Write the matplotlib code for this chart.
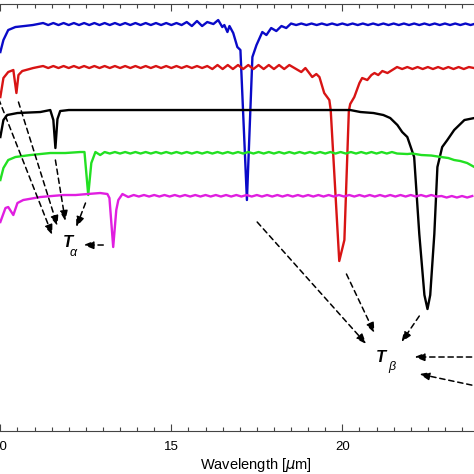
import matplotlib
matplotlib.use("Agg")
import matplotlib.pyplot as plt

# Transmission spectra (offset)
wl_blue = [10.00, 10.09, 10.23, 10.44, 10.70, 10.95, 11.10,
           11.25, 11.40, 11.55, 11.70, 11.85, 12.00, 12.15, 12.30, 12.45, 12.60,
           12.75, 12.90, 13.05, 13.20, 13.35, 13.50, 13.65, 13.80, 13.95, 14.10,
           14.25, 14.40, 14.55, 14.70, 14.85, 15.00, 15.15, 15.30, 15.45, 15.60,
           15.75, 15.90, 16.05,
           16.23, 16.37, 16.49, 16.55, 16.64, 16.70, 16.81, 16.93, 17.02, 17.21,
           17.37, 17.49, 17.66, 17.78, 17.92, 18.07, 18.22, 18.36,
           18.50, 18.65, 18.80, 18.95, 19.10, 19.25, 19.40, 19.55, 19.70, 19.85,
           20.00, 20.15, 20.30, 20.45, 20.60, 20.75, 20.90, 21.05, 21.20, 21.35,
           21.50, 21.65, 21.80, 21.95, 22.10, 22.25, 22.40, 22.55, 22.70, 22.85,
           23.00, 23.15, 23.30, 23.45, 23.60, 23.75, 23.90]
T_blue = [3.79, 3.91, 4.01, 4.04, 4.05, 4.06, 4.07,
          4.08, 4.06, 4.08, 4.06, 4.08, 4.06, 4.08, 4.06, 4.08, 4.06,
          4.08, 4.06, 4.08, 4.06, 4.08, 4.06, 4.08, 4.06, 4.08, 4.06,
          4.08, 4.06, 4.08, 4.06, 4.08, 4.06, 4.08, 4.06, 4.09, 4.05,
          4.10, 4.05, 4.09,
          4.07, 4.11, 4.04, 4.06, 3.99, 4.05, 3.98, 3.84, 3.81, 2.31,
          3.74, 3.86, 3.99, 3.96, 4.03, 4.00, 4.05, 4.03,
          4.075, 4.06, 4.075, 4.06, 4.075, 4.06, 4.075, 4.06, 4.075, 4.06,
          4.075, 4.06, 4.075, 4.06, 4.075, 4.06, 4.075, 4.06, 4.075, 4.06,
          4.075, 4.06, 4.075, 4.06, 4.075, 4.06, 4.075, 4.06, 4.075, 4.06,
          4.075, 4.06, 4.075, 4.06, 4.075, 4.06, 4.075]

wl_red = [10.00, 10.09, 10.23, 10.38, 10.47, 10.53, 10.64, 10.96, 11.10,
          11.25, 11.40, 11.55, 11.70, 11.85, 12.00, 12.15, 12.30, 12.45, 12.60,
          12.75, 12.90, 13.05, 13.20, 13.35, 13.50, 13.65, 13.80, 13.95, 14.10,
          14.25, 14.40, 14.55, 14.70, 14.85, 15.00, 15.15, 15.30, 15.45, 15.60,
          15.75, 15.90, 16.05, 16.20, 16.35, 16.50, 16.65, 16.80, 16.95, 17.10,
          17.25, 17.40, 17.55, 17.70, 17.85, 18.00, 18.15, 18.30, 18.45,
          18.60, 18.80, 18.92, 19.01, 19.12, 19.24, 19.33, 19.47, 19.62, 19.66,
          19.91, 20.06, 20.19, 20.23, 20.35, 20.50, 20.58, 20.73, 20.85, 20.94,
          21.05, 21.17, 21.32, 21.46,
          21.60, 21.75, 21.90, 22.05, 22.20, 22.35, 22.50, 22.65, 22.80, 22.95,
          23.10, 23.25, 23.40, 23.55, 23.70, 23.85]
T_red = [3.34, 3.53, 3.59, 3.61, 3.38, 3.56, 3.60, 3.63, 3.64,
         3.65, 3.63, 3.65, 3.63, 3.65, 3.63, 3.65, 3.63, 3.65, 3.63,
         3.65, 3.63, 3.65, 3.63, 3.65, 3.63, 3.65, 3.63, 3.65, 3.63,
         3.65, 3.63, 3.65, 3.63, 3.65, 3.63, 3.65, 3.63, 3.65, 3.63,
         3.65, 3.63, 3.65, 3.62, 3.66, 3.62, 3.66, 3.62, 3.66, 3.62,
         3.66, 3.62, 3.66, 3.62, 3.66, 3.62, 3.66, 3.62, 3.66,
         3.63, 3.59, 3.63, 3.59, 3.54, 3.57, 3.54, 3.38, 3.31, 3.21,
         1.70, 1.91, 3.20, 3.27, 3.34, 3.48, 3.53, 3.51, 3.56, 3.58,
         3.56, 3.60, 3.58, 3.61,
         3.64, 3.62, 3.64, 3.62, 3.64, 3.62, 3.64, 3.62, 3.64, 3.62,
         3.64, 3.62, 3.64, 3.62, 3.64, 3.63]

wl_black = [10.00, 10.09, 10.20, 10.50, 11.17, 11.46, 11.55, 11.61, 11.67,
            11.75, 12.00, 14.00, 16.00, 18.00, 20.23, 20.53, 20.91, 21.20,
            21.40, 21.61, 21.75, 21.90, 22.10, 22.25, 22.40, 22.49, 22.57,
            22.69, 22.78, 22.92, 23.07, 23.27, 23.57, 23.86]
T_black = [2.94, 3.11, 3.16, 3.18, 3.19, 3.21, 3.11, 2.83, 3.12,
           3.20, 3.21, 3.21, 3.21, 3.21, 3.21, 3.19, 3.18, 3.16,
           3.13, 3.06, 2.99, 2.94, 2.74, 1.97, 1.36, 1.22, 1.36,
           1.97, 2.64, 2.84, 2.91, 3.01, 3.11, 3.13]

wl_green = [10.00, 10.09, 10.23, 10.44, 10.88, 11.46, 11.90, 12.34, 12.46,
            12.57, 12.66, 12.78, 12.92,
            13.05, 13.20, 13.35, 13.50, 13.65, 13.80, 13.95, 14.10, 14.25,
            14.40, 14.55, 14.70, 14.85, 15.00, 15.15, 15.30, 15.45, 15.60,
            15.75, 15.90, 16.05, 16.20, 16.35, 16.50, 16.65, 16.80, 16.95,
            17.10, 17.25, 17.40, 17.55, 17.70, 17.85, 18.00, 18.15, 18.30,
            18.45, 18.60, 18.75, 18.90, 19.05, 19.20, 19.35, 19.50, 19.65,
            19.80, 19.95, 20.10, 20.25, 20.40, 20.55, 20.70, 20.85, 21.00,
            21.15, 21.30, 21.45, 21.60,
            21.90, 22.05, 22.31, 22.60, 22.89, 23.10, 23.27, 23.45, 23.65, 23.86]
T_green = [2.51, 2.63, 2.71, 2.74, 2.76, 2.78, 2.78, 2.79, 2.79,
           2.36, 2.68, 2.79, 2.76,
           2.79, 2.775, 2.79, 2.775, 2.79, 2.775, 2.79, 2.775, 2.79,
           2.775, 2.79, 2.775, 2.79, 2.775, 2.79, 2.775, 2.79, 2.775,
           2.79, 2.775, 2.79, 2.775, 2.79, 2.775, 2.79, 2.775, 2.79,
           2.775, 2.79, 2.775, 2.79, 2.775, 2.79, 2.775, 2.79, 2.775,
           2.79, 2.775, 2.79, 2.775, 2.79, 2.775, 2.79, 2.775, 2.79,
           2.775, 2.79, 2.775, 2.79, 2.775, 2.79, 2.775, 2.79, 2.775,
           2.79, 2.775, 2.79, 2.775,
           2.77, 2.775, 2.76, 2.755, 2.74, 2.73, 2.71, 2.70, 2.68, 2.64]

wl_mag = [10.00, 10.15, 10.23, 10.38, 10.50, 10.67, 11.17, 11.50, 11.85,
          12.20, 12.55, 12.92, 13.13, 13.19, 13.30, 13.39, 13.45, 13.57, 13.74,
          13.90, 14.05, 14.20, 14.35, 14.50, 14.65, 14.80, 14.95, 15.10, 15.25,
          15.40, 15.55, 15.70, 15.85, 16.00, 16.15, 16.30, 16.45, 16.60, 16.75,
          16.90, 17.05, 17.20, 17.35, 17.50, 17.65, 17.80, 17.95, 18.10, 18.25,
          18.40, 18.55, 18.70, 18.85, 19.00, 19.15, 19.30, 19.45, 19.60, 19.75,
          19.90, 20.05, 20.20, 20.35, 20.50, 20.65, 20.80, 20.95, 21.10, 21.25,
          21.40, 21.55, 21.70, 21.85, 22.00, 22.15, 22.30, 22.45, 22.60, 22.75,
          22.90, 23.05, 23.20, 23.35, 23.50, 23.65, 23.80]
T_mag = [2.09, 2.23, 2.24, 2.16, 2.28, 2.31, 2.34, 2.35, 2.36,
         2.36, 2.37, 2.38, 2.37, 2.33, 1.84, 2.21, 2.31, 2.37, 2.34,
         2.36, 2.345, 2.36, 2.345, 2.36, 2.345, 2.36, 2.345, 2.36, 2.345,
         2.36, 2.345, 2.36, 2.345, 2.36, 2.345, 2.36, 2.345, 2.36, 2.345,
         2.36, 2.345, 2.36, 2.345, 2.36, 2.345, 2.36, 2.345, 2.36, 2.345,
         2.36, 2.345, 2.36, 2.345, 2.36, 2.345, 2.36, 2.345, 2.36, 2.345,
         2.36, 2.345, 2.36, 2.345, 2.36, 2.345, 2.36, 2.345, 2.36, 2.345,
         2.36, 2.345, 2.36, 2.345, 2.36, 2.345, 2.36, 2.345, 2.36, 2.345,
         2.35, 2.335, 2.35, 2.335, 2.35, 2.335, 2.35]

# dashed arrows pointing at the two absorption bands
alpha_from = [(9.56, 3.66), (10.53, 3.29), (11.61, 2.71), (12.49, 2.28), (13.01, 1.86)]
alpha_to = [(11.52, 1.96), (11.67, 2.05), (11.90, 2.10), (12.22, 2.04), (12.43, 1.86)]
beta_from = [(17.51, 2.09), (20.12, 1.57), (22.25, 1.15), (24.05, 0.74), (24.05, 0.44)]
beta_to = [(20.70, 0.87), (20.94, 0.98), (21.73, 0.89), (22.11, 0.74), (22.25, 0.57)]

plt.rcParams['font.family'] = ['Liberation Sans', 'DejaVu Sans']

fig = plt.figure(figsize=(4.74, 4.74), dpi=100)
ax = fig.add_axes([0, 0.0907, 1, 0.9008])

lw = 1.7
ax.plot(wl_blue, T_blue, color='#0a0ac8', lw=lw)
ax.plot(wl_red, T_red, color='#d81414', lw=lw)
ax.plot(wl_black, T_black, color='k', lw=lw)
ax.plot(wl_green, T_green, color='#22e022', lw=lw)
ax.plot(wl_mag, T_mag, color='#e01ee0', lw=lw)

arrow = dict(arrowstyle='-|>,head_length=0.5,head_width=0.2', color='k',
             lw=1.1, linestyle=(0, (3.5, 2.5)), shrinkA=0, shrinkB=0,
             mutation_scale=12)
for s, e in zip(alpha_from + beta_from, alpha_to + beta_to):
    ax.annotate('', xy=e, xytext=s, arrowprops=arrow, annotation_clip=False)

ax.text(11.98, 1.885, 'T', fontsize=12, fontweight='bold', style='italic',
        ha='center', va='center')
ax.text(12.13, 1.78, 'α', fontsize=9, style='italic', ha='center', va='center')
ax.text(21.14, 0.74, 'T', fontsize=12, fontweight='bold', style='italic',
        ha='center', va='center')
ax.text(21.46, 0.64, 'β', fontsize=9, style='italic', ha='center', va='center')

ax.set_xlim(9.99, 23.85)
ax.set_ylim(0, 4.27)
ax.set_xticks([10, 15, 20])
ax.set_xticks([x / 2 for x in range(20, 48)], minor=True)
ax.tick_params(axis='x', which='both', direction='in', top=True, bottom=True,
               color='#444444', labelsize=9.5, pad=7)
ax.tick_params(axis='x', which='major', length=5, width=0.8)
ax.tick_params(axis='x', which='minor', length=3, width=0.8)
ax.yaxis.set_visible(False)
ax.spines['left'].set_visible(False)
ax.spines['right'].set_visible(False)
for sp in ('top', 'bottom'):
    ax.spines[sp].set_color('#444444')
    ax.spines[sp].set_linewidth(0.8)

ax.set_xlabel(r'Wavelength [$\mu$m]', fontsize=10.5)
ax.xaxis.set_label_coords(0.54, -0.058)

fig.savefig('out.png', dpi=100)
